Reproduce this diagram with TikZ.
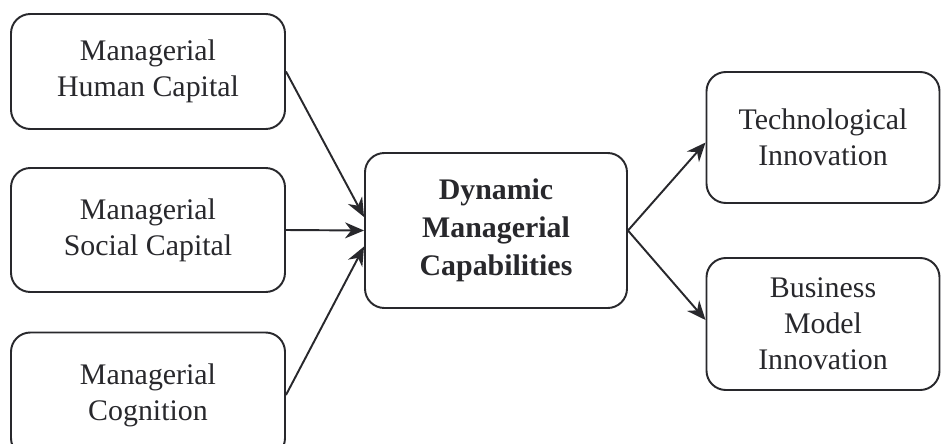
\documentclass[tikz,border=0pt]{standalone}
\usepackage{fontspec}
\setmainfont{Liberation Serif}
\usetikzlibrary{arrows.meta,positioning}
\definecolor{ink}{RGB}{40,40,44}
\tikzset{
  >={Stealth[length=3.8mm,width=3.2mm]},
  box/.style={draw=ink,line width=1.1pt,rounded corners=11pt,fill=white,
    text=ink,align=center,font=\fontsize{17}{20.5}\selectfont,
    minimum width=#1},
  box/.default=5.48cm,
  flow/.style={->,line width=1.1pt,draw=ink},
}
\begin{document}
\begin{tikzpicture}
  \useasboundingbox (0,0) rectangle (18.86,-8.86);
  % drivers on the left
  \foreach \t/\y/\h [count=\i] in {Managerial\\Human Capital/-1.43/2.3cm,
      Managerial\\Social Capital/-4.6/2.48cm,Managerial\\Cognition/-7.9/2.5cm}{
    \node[box,minimum height=\h] (m\i) at (2.96,\y) {\t};
  }
  \node[box=5.24cm,minimum height=3.1cm,font=\fontsize{17}{21.5}\selectfont\bfseries] (dmc) at (9.92,-4.61)
    {Dynamic\\Managerial\\Capabilities};
  % outcomes
  \node[box=4.66cm,minimum height=2.62cm] (tech) at (16.46,-2.75) {Technological\\Innovation};
  \node[box=4.66cm,minimum height=2.64cm] (bmi) at (16.46,-6.48) {Business\\Model\\Innovation};
  \foreach \i/\s in {1/0.27,2/0,3/-0.32} \draw[flow] (m\i.east) -- ([yshift=\s cm]dmc.west);
  \draw[flow] (dmc.east) -- ([yshift=-0.1cm]tech.west);
  \draw[flow] (dmc.east) -- ([yshift=0.08cm]bmi.west);
\end{tikzpicture}
\end{document}
